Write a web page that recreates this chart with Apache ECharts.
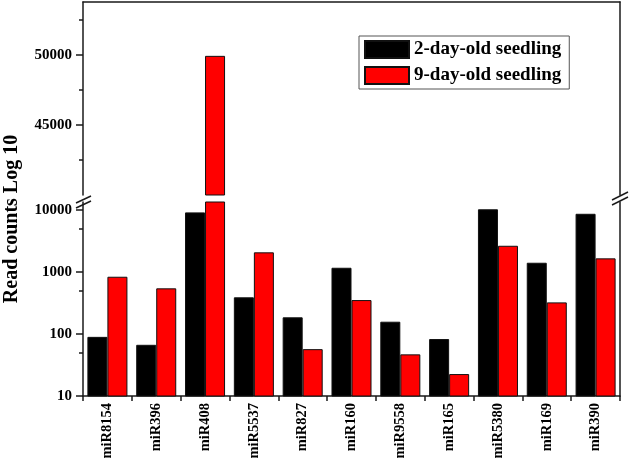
<!DOCTYPE html>
<html>
<head>
<meta charset="utf-8">
<script src="https://cdn.jsdelivr.net/npm/echarts@6/dist/echarts.min.js"></script>
<style>html,body{margin:0;padding:0;background:#fff}#c{width:630px;height:465px}</style>
</head>
<body>
<div id="c"></div>
<script>
var categories = ['miR8154','miR396','miR408','miR5537','miR827','miR160','miR9558','miR165','miR5380','miR169','miR390'];
var seedling2 = [90, 67, 9180, 391, 186, 1173, 158, 83, 10300, 1413, 8710];
var seedling9 = [840, 546, 49950, 2080, 57, 353, 47, 22.6, 2655, 324, 1663];
var seriesNames = ['2-day-old seedling', '9-day-old seedling'];
var upperMajorTicks = [45000, 50000];
var upperMinorTicks = [42500, 47500, 52500];
var lowerMajorTicks = [10, 100, 1000, 10000];
var lowerMinorTicks = [50, 500, 5000];
var upperMin = 40000, upperMax = 53800;
var lowerMin = 10, lowerMax = 13500;

var FONT = 'Liberation Serif';
var AX = '#1a1a1a';
var chart = echarts.init(document.getElementById('c'), null, {renderer: 'canvas'});

function upperOnly(arr) { return arr.map(function (v) { return v >= upperMin ? v : '-'; }); }
function plain(v) { return String(Math.round(v)); }
function ls() { return {color: AX, width: 1.5}; }
function lab(extra, size) {
  var o = {color: '#000', fontFamily: FONT, fontWeight: 'bold', fontSize: size || 15};
  for (var k in extra) o[k] = extra[k];
  return o;
}
function barStyle(c) { return {color: c, borderColor: '#111', borderWidth: 1}; }
// helper linear scale (1000 * log10 v) matching the lower log axis, used only for its minor ticks
var K = 1000;
function kl(v) { return Math.round(K * Math.log10(v)); }
var lowerMinorScaled = lowerMinorTicks.map(kl);

var option = {
  animation: false,
  backgroundColor: '#fff',
  grid: [
    {left: 83, right: 10, top: 2, height: 193},
    {left: 83, right: 10, top: 202, height: 194},
    {left: 83, right: 10, top: 202, height: 194}
  ],
  legend: {
    data: seriesNames,
    orient: 'vertical',
    left: 359, top: 36,
    padding: [4, 8, 4, 5],
    itemWidth: 44, itemHeight: 17, itemGap: 7,
    borderColor: '#555', borderWidth: 1,
    icon: 'rect',
    textStyle: {color: '#000', fontFamily: FONT, fontWeight: 'bold', fontSize: 19}
  },
  xAxis: [
    {gridIndex: 0, type: 'category', data: categories, position: 'top',
     axisLine: {show: true, lineStyle: ls()}, axisTick: {show: false}, axisLabel: {show: false}, splitLine: {show: false}},
    {gridIndex: 1, type: 'category', data: categories, position: 'bottom',
     axisLine: {show: true, lineStyle: ls()},
     axisTick: {show: true, length: 5, lineStyle: ls()},
     axisLabel: lab({rotate: 90, margin: 7, interval: 0}, 14.5),
     splitLine: {show: false}},
    {gridIndex: 2, type: 'category', data: categories, show: false}
  ],
  yAxis: [
    {gridIndex: 0, type: 'value', min: upperMin, max: upperMax, position: 'left',
     axisLine: {show: true, lineStyle: ls()},
     axisTick: {show: true, length: 7, lineStyle: ls(), customValues: upperMajorTicks},
     axisLabel: lab({margin: 11, customValues: upperMajorTicks, formatter: plain}),
     splitLine: {show: false}},
    {gridIndex: 0, type: 'value', min: upperMin, max: upperMax, position: 'left',
     axisLine: {show: false},
     axisTick: {show: true, length: 4, lineStyle: ls(), customValues: upperMinorTicks},
     axisLabel: {show: false, customValues: upperMinorTicks}, splitLine: {show: false}},
    {gridIndex: 0, type: 'value', min: upperMin, max: upperMax, position: 'right',
     axisLine: {show: true, lineStyle: ls()}, axisTick: {show: false}, axisLabel: {show: false}, splitLine: {show: false}},
    {gridIndex: 1, type: 'log', min: lowerMin, max: lowerMax, position: 'left',
     axisLine: {show: true, lineStyle: ls()},
     axisTick: {show: true, length: 7, lineStyle: ls(), customValues: lowerMajorTicks},
     axisLabel: lab({margin: 11, customValues: lowerMajorTicks, formatter: plain}),
     splitLine: {show: false}},
    {gridIndex: 1, type: 'log', min: lowerMin, max: lowerMax, position: 'right',
     axisLine: {show: true, lineStyle: ls()}, axisTick: {show: false}, axisLabel: {show: false}, splitLine: {show: false}},
    {gridIndex: 2, type: 'value', min: kl(lowerMin), max: kl(lowerMax), position: 'left',
     axisLine: {show: false},
     axisTick: {show: true, length: 4, lineStyle: ls(), customValues: lowerMinorScaled},
     axisLabel: {show: false, customValues: lowerMinorScaled}, splitLine: {show: false}}
  ],
  series: [
    {name: seriesNames[0], type: 'bar', xAxisIndex: 0, yAxisIndex: 0, data: upperOnly(seedling2),
     barGap: '0%', barCategoryGap: '18%', itemStyle: barStyle('#000000')},
    {name: seriesNames[1], type: 'bar', xAxisIndex: 0, yAxisIndex: 0, data: upperOnly(seedling9),
     barGap: '0%', barCategoryGap: '18%', itemStyle: barStyle('#ff0000')},
    {name: seriesNames[0], type: 'bar', xAxisIndex: 1, yAxisIndex: 3, data: seedling2,
     barGap: '0%', barCategoryGap: '18%', itemStyle: barStyle('#000000')},
    {name: seriesNames[1], type: 'bar', xAxisIndex: 1, yAxisIndex: 3, data: seedling9,
     barGap: '0%', barCategoryGap: '18%', itemStyle: barStyle('#ff0000')}
  ],
  graphic: [
    {type: 'text', rotation: Math.PI / 2, x: 12, y: 219,
     style: {text: 'Read counts Log 10', fill: '#000', font: 'bold 20px "Liberation Serif"', align: 'center', verticalAlign: 'middle'},
     silent: true},
    {type: 'line', shape: {x1: 76, y1: 203, x2: 91, y2: 196}, style: {stroke: AX, lineWidth: 1.5}, silent: true},
    {type: 'line', shape: {x1: 76, y1: 208, x2: 91, y2: 201}, style: {stroke: AX, lineWidth: 1.5}, silent: true},
    {type: 'line', shape: {x1: 612, y1: 200, x2: 628, y2: 192}, style: {stroke: AX, lineWidth: 1.5}, silent: true},
    {type: 'line', shape: {x1: 612, y1: 205, x2: 628, y2: 197}, style: {stroke: AX, lineWidth: 1.5}, silent: true}
  ]
};
chart.setOption(option);
</script>
</body>
</html>
